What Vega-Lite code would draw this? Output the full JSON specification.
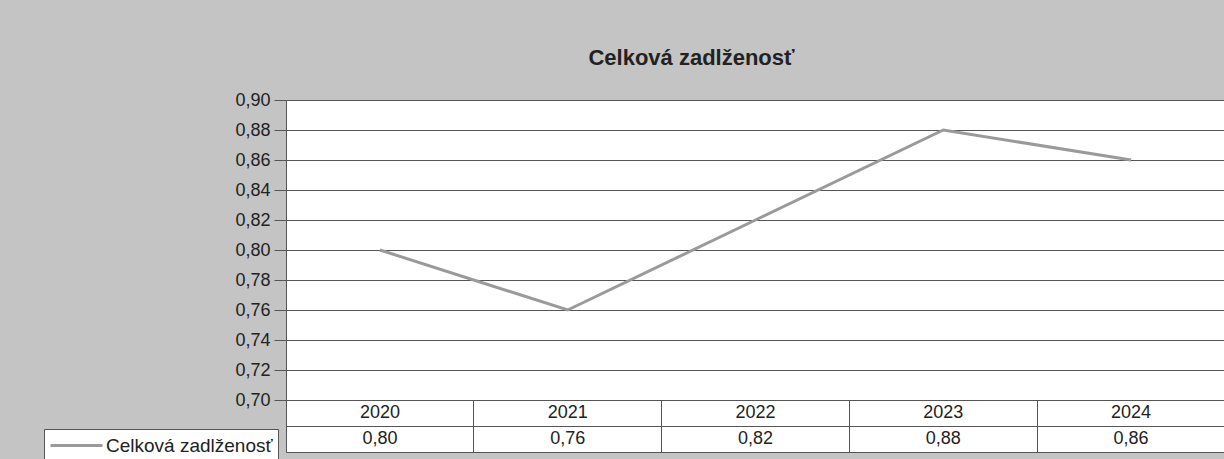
{
  "$schema": "https://vega.github.io/schema/vega-lite/v6.json",
  "background": "#c4c4c4",
  "padding": {"left": 43, "top": 46, "right": 0, "bottom": 0},
  "bounds": "flush",
  "spacing": 0,
  "datasets": {
    "d": [
      {"rok": "2020", "hodnota": 0.80, "serie": "Celková zadlženosť"},
      {"rok": "2021", "hodnota": 0.76, "serie": "Celková zadlženosť"},
      {"rok": "2022", "hodnota": 0.82, "serie": "Celková zadlženosť"},
      {"rok": "2023", "hodnota": 0.88, "serie": "Celková zadlženosť"},
      {"rok": "2024", "hodnota": 0.86, "serie": "Celková zadlženosť"}
    ]
  },
  "config": {
    "locale": {"number": {"decimal": ",", "thousands": " ", "grouping": [3], "currency": ["", " €"]}},
    "font": "Liberation Sans",
    "view": {"fill": "white", "stroke": "#555555", "strokeWidth": 1}
  },
  "vconcat": [
    {
      "width": 939,
      "height": 300,
      "title": {"text": "Celková zadlženosť", "fontSize": 22, "fontWeight": "bold", "color": "#222222", "anchor": "middle", "dx": -64, "offset": 21, "font": "Liberation Sans"},
      "data": {"name": "d"},
      "mark": {"type": "line", "strokeWidth": 3},
      "encoding": {
        "x": {"field": "rok", "type": "nominal", "scale": {"type": "point", "padding": 0.5}, "axis": null},
        "y": {
          "field": "hodnota", "type": "quantitative",
          "scale": {"domain": [0.7, 0.9], "nice": false, "zero": false},
          "axis": {
            "values": [0.7, 0.72, 0.74, 0.76, 0.78, 0.8, 0.82, 0.84, 0.86, 0.88, 0.9],
            "format": ".2f", "title": null, "domain": false,
            "grid": true, "gridColor": "#555555", "gridWidth": 1, "gridOpacity": 1,
            "ticks": true, "tickSize": 12, "tickColor": "#555555",
            "labelFontSize": 18, "labelColor": "#222222", "labelPadding": 4, "labelFont": "Liberation Sans"
          }
        },
        "color": {
          "field": "serie", "type": "nominal",
          "scale": {"range": ["#9a9a9a"]},
          "legend": {
            "title": null, "orient": "none", "legendX": -242, "legendY": 329,
            "symbolType": "M-1,0H4.2", "symbolSize": 400, "symbolStrokeWidth": 3,
            "labelFontSize": 19, "labelColor": "#222222", "labelFont": "Liberation Sans", "labelOffset": 34,
            "strokeColor": "#555555", "fillColor": "white", "padding": 5, "labelLimit": 300
          }
        }
      }
    },
    {
      "width": 939,
      "height": 52,
      "data": {"name": "d"},
      "layer": [
        {
          "mark": {"type": "text", "fontSize": 18, "color": "#222222", "baseline": "middle", "font": "Liberation Sans"},
          "encoding": {
            "x": {"field": "rok", "type": "nominal", "scale": {"type": "band", "paddingInner": 0, "paddingOuter": 0},
              "axis": {"orient": "top", "title": null, "labels": false, "ticks": false, "domain": false, "grid": true, "bandPosition": 0, "gridColor": "#555555", "gridOpacity": 1}},
            "y": {"datum": "rok", "type": "nominal", "scale": {"type": "band", "domain": ["rok", "hodnota"], "paddingInner": 0, "paddingOuter": 0},
              "axis": {"title": null, "labels": false, "ticks": false, "domain": false, "grid": true, "bandPosition": 0, "gridColor": "#555555", "gridOpacity": 1}},
            "text": {"field": "rok", "type": "nominal"}
          }
        },
        {
          "mark": {"type": "text", "fontSize": 18, "color": "#222222", "baseline": "middle", "font": "Liberation Sans"},
          "encoding": {
            "x": {"field": "rok", "type": "nominal"},
            "y": {"datum": "hodnota", "type": "nominal"},
            "text": {"field": "hodnota", "type": "quantitative", "format": ".2f"}
          }
        }
      ]
    }
  ]
}
